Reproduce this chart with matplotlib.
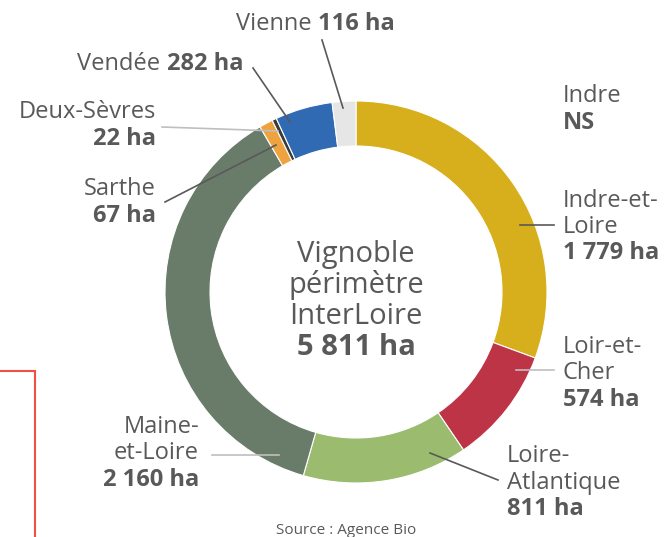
import matplotlib.pyplot as plt
from matplotlib.patches import Rectangle

# surfaces viticoles bio par département (ha), dans l'ordre horaire depuis midi
departements = ['Indre', 'Indre-et-Loire', 'Loir-et-Cher', 'Loire-Atlantique',
                'Maine-et-Loire', 'Sarthe', 'Deux-Sèvres', 'Vendée', 'Vienne']
etiquettes = ['Indre', 'Indre-et-\nLoire', 'Loir-et-\nCher', 'Loire-\nAtlantique',
              'Maine-\net-Loire', 'Sarthe', 'Deux-Sèvres', 'Vendée', 'Vienne']
surfaces = [0, 1779, 574, 811, 2160, 67, 22, 282, 116]
couleurs = ['#FFFFFF', '#D7AF1D', '#BC3446', '#9BBC6F', '#697C6A',
            '#EFA33F', '#3B3B3B', '#2F6AB3', '#E6E6E6']

W, H = 667, 537
GRIS = '#595959'
plt.rcParams['font.family'] = ['Open Sans', 'DejaVu Sans']


def fmt(v):
    if v == 0:
        return 'NS'
    return f'{v:,}'.replace(',', ' ') + ' ha'


fig = plt.figure(figsize=(W / 100, H / 100), dpi=100)
ax = fig.add_axes([0, 0, 1, 1])

# anneau (on ignore les valeurs nulles)
vals = [v for v in surfaces if v > 0]
cols = [c for v, c in zip(surfaces, couleurs) if v > 0]
cx, cy, R = 356, H - 292, 191
ax.pie(vals, colors=cols, startangle=90, counterclock=False, center=(cx, cy),
       radius=R, frame=True,
       wedgeprops=dict(width=45, edgecolor='white', linewidth=0.8))
ax.set_xlim(0, W)
ax.set_ylim(0, H)
ax.set_aspect('equal')
ax.axis('off')

# texte central
total = sum(surfaces)
for i, t in enumerate(['Vignoble', 'périmètre', 'InterLoire']):
    ax.text(cx, H - (262 + 31 * i), t, ha='center', va='baseline',
            fontsize=21, color=GRIS)
ax.text(cx, H - 355, fmt(total), ha='center', va='baseline',
        fontsize=21, fontweight='bold', color=GRIS)

# placement des étiquettes: x, ha, lignes de base (px depuis le haut), trait
layout = {
    'Indre': (563, 'left', [102, 129], None),
    'Indre-et-Loire': (563, 'left', [207, 233, 259], ((520, 225), (554, 225), GRIS)),
    'Loir-et-Cher': (563, 'left', [353, 379, 406], ((516, 370), (554, 370), '#BFBFBF')),
    'Loire-Atlantique': (507, 'left', [462, 489, 515], ((430, 453), (498, 480), GRIS)),
    'Maine-et-Loire': (199, 'right', [433, 459, 486], ((212, 455), (279, 455), '#BFBFBF')),
    'Sarthe': (156, 'right', [195, 222], ((165, 202), (276, 145), GRIS)),
    'Deux-Sèvres': (156, 'right', [118, 145], ((162, 127), (278, 131), '#BFBFBF')),
}
inline = {
    'Vendée': (160, 167, 70, ((253, 68), (290, 122), GRIS)),
    'Vienne': (312, 318, 30, ((322, 40), (343, 108), GRIS)),
}

for dep, lab, v in zip(departements, etiquettes, surfaces):
    if dep in layout:
        x, ha, ys, trait = layout[dep]
        lignes = lab.split('\n')
        for t, y in zip(lignes, ys):
            ax.text(x, H - y, t, ha=ha, va='baseline', fontsize=17, color=GRIS)
        ax.text(x, H - ys[len(lignes)], fmt(v), ha=ha, va='baseline',
                fontsize=17, fontweight='bold', color=GRIS)
    else:
        xr, xb, y, trait = inline[dep]
        ax.text(xr, H - y, lab, ha='right', va='baseline', fontsize=17, color=GRIS)
        ax.text(xb, H - y, fmt(v), ha='left', va='baseline',
                fontsize=17, fontweight='bold', color=GRIS)
    if trait:
        (x0, y0), (x1, y1), c = trait
        ax.plot([x0, x1], [H - y0, H - y1], color=c, lw=1.2)

ax.text(346, H - 534, 'Source : Agence Bio', ha='center', va='baseline',
        fontsize=11, color=GRIS)

# cadre rouge partiellement visible en bas à gauche
ax.add_patch(Rectangle((-50, -50), 85, H - 371 + 50, fill=False,
                       edgecolor='#F2503F', lw=1.5, clip_on=True))

fig.savefig('out.png', dpi=100)
